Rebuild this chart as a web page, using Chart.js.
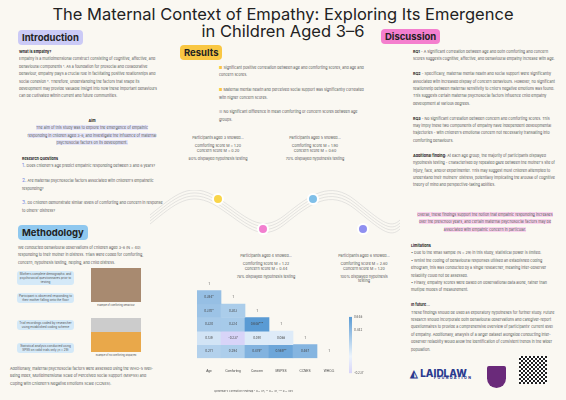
<!DOCTYPE html>
<html><head><meta charset="utf-8">
<script src="https://cdn.jsdelivr.net/npm/chart.js@4"></script>
<style>
body{margin:0;width:566px;height:400px;background:#faf8f2;font-family:Inter,"Open Sans",sans-serif;color:#333;position:relative;overflow:hidden}
.a{position:absolute}
.t{font-size:3.7px;line-height:7.4px;color:#555}
.h{position:absolute;font-weight:700;font-size:9.5px;padding:2px 4px;border-radius:4px;color:#222}
.b{font-weight:700;color:#222}
.box{background:#d4e9f8;border-radius:3px;text-align:center;font-size:3px;line-height:4px;padding:1px;color:#555;position:absolute;width:55px}
</style></head><body>
<div class="a" style="left:0;width:566px;top:6px;text-align:center;font-size:16.5px;line-height:17px;color:#222">The Maternal Context of Empathy: Exploring Its Emergence<br>in Children Aged 3–6</div>
<div class="h" style="left:18px;top:30px;background:#cbcaf6">Introduction</div>
<div class="h" style="left:180px;top:45px;background:#f9c743">Results</div>
<div class="h" style="left:18px;top:225px;background:#8fc8ef">Methodology</div>
<div class="h" style="left:381px;top:29px;background:#f47fce">Discussion</div>

<div class="a t" style="left:19px;top:48px;width:144px"><span class="b">What is Empathy?</span><br>Empathy is a multidimensional construct consisting of cognitive, affective, and behavioural components ¹. As a foundation for prosocial and collaborative behaviour, empathy plays a crucial role in facilitating positive relationships and social cohesion ². Therefore, understanding the factors that shape its development may provide valuable insight into how these important behaviours can be cultivated within current and future communities.</div>
<div class="a t" style="left:27px;top:117px;width:130px;text-align:center"><span class="b">Aim</span><br><span style="background:#e6e6fa">The aim of this study was to explore the emergence of empathic responding in children aged 3-6, and investigate the influence of maternal psychosocial factors on its development.</span></div>
<div class="a t" style="left:22px;top:155px;width:145px"><span class="b">Research Questions</span><br><span style="color:#7a8ce0;font-size:5px">1.</span> Does children's age predict empathic responding between 3 and 6 years?<br><br><span style="color:#7a8ce0;font-size:5px">2.</span> Are maternal psychosocial factors associated with children's empathetic responding?<br><br><span style="color:#7a8ce0;font-size:5px">3.</span> Do children demonstrate similar levels of comforting and concern in response to others' distress?</div>

<div class="a t" style="left:18px;top:244px;width:140px">We conducted behavioural observations of children aged 3-6 (N = 40) responding to their mother in distress. Trials were coded for comforting, concern, hypothesis testing, helping, and child distress.</div>
<div class="box" style="left:17px;top:271px">Mothers complete demographic and psychosocial questionnaires prior to testing</div>
<div class="box" style="left:17px;top:293px">Participant is observed responding to their mother falling onto the floor</div>
<div class="box" style="left:17px;top:320px">Trial recordings coded by researcher using established coding scheme</div>
<div class="box" style="left:17px;top:343px">Statistical analysis conducted using SPSS on valid trials only (n = 29)</div>
<div class="a" style="left:91px;top:268px;width:50px;height:34px;background:#a88a70"></div>
<div class="a t" style="left:88px;top:302px;width:56px;font-size:2.4px;text-align:center">Example of comforting behaviour</div>
<div class="a" style="left:91px;top:318px;width:50px;height:34px;background:linear-gradient(#ccc 40%,#e9a84a 40%)"></div>
<div class="a t" style="left:88px;top:352px;width:56px;font-size:2.4px;text-align:center">Example of no comforting displayed</div>
<div class="a t" style="left:10px;top:365px;width:148px">Additionally, maternal psychosocial factors were assessed using the WHO-5 Well-Being Index, Multidimensional Scale of Perceived Social Support (MSPSS) and Coping with Children's Negative Emotions Scale (CCNES).</div>

<div class="a t" style="left:219px;top:64px;width:150px"><span style="color:#f9c743">■</span> Significant positive correlation between age and comforting scores, and age and concern scores.<br><br><span style="color:#f9c743">■</span> Maternal mental health and perceived social support was significantly correlated with higher concern scores.<br><br><span style="color:#ccc">■</span> No significant difference in mean comforting or concern scores between age groups.</div>
<div class="a t" style="left:188px;top:136px;width:60px;text-align:center;line-height:4.2px">Participants aged 3 showed...<br><br>Comforting score M = 1.20<br>Concern score M = 0.20<br><br>80% displayed hypothesis testing</div>
<div class="a t" style="left:285px;top:136px;width:60px;text-align:center;line-height:4.2px">Participants aged 5 showed...<br><br>Comforting score M = 1.90<br>Concern score M = 0.60<br><br>70% displayed hypothesis testing</div>
<div class="a t" style="left:236px;top:254px;width:60px;text-align:center;line-height:4.2px">Participants aged 4 showed...<br><br>Comforting score M = 1.22<br>Concern score M = 0.44<br><br>78% displayed hypothesis testing</div>
<div class="a t" style="left:334px;top:254px;width:60px;text-align:center;line-height:4.2px">Participants aged 6 showed...<br><br>Comforting score M = 2.60<br>Concern score M = 1.20<br><br>100% displayed hypothesis testing</div>
<svg class="a" style="left:150px;top:190px" width="250" height="60">
<g fill="none" stroke="#ccc" stroke-width="0.5">
<path d="M0 25 C25 5,40 -10,68 8 S110 45,135 25 S180 -10,205 10 S240 40,250 30"/>
<path d="M0 28 C25 8,40 -7,68 11 S110 48,135 28 S180 -7,205 13 S240 43,250 33"/>
<path d="M0 31 C25 11,40 -4,68 14 S110 51,135 31 S180 -4,205 16 S240 46,250 36"/>
<path d="M0 34 C25 14,40 -1,68 17 S110 54,135 34 S180 -1,205 19 S240 49,250 39"/>
</g>
<circle cx="68" cy="9" r="5" fill="#f9d54a" stroke="#fff" stroke-width="2"/>
<circle cx="113" cy="39" r="5" fill="#f27fcf" stroke="#fff" stroke-width="2"/>
<circle cx="163" cy="9" r="5" fill="#7fbfe8" stroke="#fff" stroke-width="2"/>
<circle cx="213" cy="39" r="5" fill="#8f8ff0" stroke="#fff" stroke-width="2"/>
</svg>

<div class="a t" style="left:413px;top:48px;width:142px"><span class="b">RQ1</span> - A significant correlation between age and both comforting and concern scores suggests cognitive, affective, and behavioural empathy increase with age.<br><br><span class="b">RQ2</span> - Specifically, maternal mental health and social support were significantly associated with increased display of concern behaviours. However, no significant relationship between maternal sensitivity to child's negative emotions was found. This suggests certain maternal psychosocial factors influence child empathy development at various degrees.<br><br><span class="b">RQ3</span> - No significant correlation between concern and comforting scores. This may imply these two components of empathy have independent developmental trajectories - with children's emotional concern not necessarily translating into comforting behaviours.<br><br><span class="b">Additional finding:</span> At each age group, the majority of participants displayed hypothesis testing - characterised by repeated gaze between the mother's site of injury, face, and/or experimenter. This may suggest most children attempted to understand their mothers' distress, potentially implicating the arousal of cognitive theory of mind and perspective-taking abilities.</div>
<div class="a t" style="left:415px;top:211px;width:140px;text-align:center"><span style="background:#fbd3ee">Overall, these findings support the notion that empathic responding increases over the preschool years, and certain maternal psychosocial factors may be associated with empathic concern in particular.</span></div>
<div class="a t" style="left:411px;top:242px;width:145px"><span class="b">Limitations</span><br>• Due to the small sample (N = 29) in this study, statistical power is limited.<br>• Whilst the coding of behavioural responses utilised an established coding ethogram, this was conducted by a single researcher, meaning inter-observer reliability could not be assessed.<br>• Finally, empathy scores were based on observational data alone, rather than multiple modes of measurement.<br><br><span class="b">In future...</span><br>These findings should be used as exploratory hypotheses for further study. Future research should incorporate both behavioural observations and caregiver-report questionnaires to provide a comprehensive overview of participants' current level of empathy. Additionally, analysis of a larger dataset alongside conducting inter-observer reliability would allow the identification of consistent trends in the wider population.</div>
<div class="a" style="left:410px;top:367px;font-size:10px;font-weight:800;color:#2a3a8f">◭ LAIDLAW<div style="font-size:3.5px;letter-spacing:1.5px;margin-left:24px;margin-top:-3px">FOUNDATION</div></div>
<div class="a" style="left:487px;top:366px;width:19px;height:22px;background:#6a2a7a;border-radius:2px 2px 10px 10px"></div>
<div class="a" style="left:519px;top:356px;width:28px;height:28px;background:repeating-conic-gradient(#222 0 25%,#fff 0 50%) 0 0/4px 4px"></div>

<div class="a" style="left:183px;top:272px;width:200px;height:122px"><canvas id="c"></canvas></div>
<div class="a t" style="left:214px;top:388px;font-size:2.5px">Spearman's Correlation Heatmap * α = .05, ** α = .01, *** α = .005</div>
<script>
const rowsLbl=["Age","Comforting","Concern","MSPSS","CCNES","WHO-5"];
const colsLbl=["Age","Comforting","Concern","MSPSS","CCNES","WHO-5"];
const corr=[
 [1],
 [0.394,1],
 [0.370,0.303,1],
 [0.320,0.324,0.648,1],
 [0.139,-0.237,0.091,0.088,1],
 [0.271,0.294,0.479,0.569,0.467,1]];
const stars=[
 [""],["*",""],["*","",""],["","","***",""],["","","","",""],["","","*","**","",""]];
const cbTicks=[0.648,0.442,-0.237];
const vmin=-0.237,vmax=0.648;
function col(v){
 if(v>=1) return 'rgba(0,0,0,0)';
 const t=(v-vmin)/(vmax-vmin);
 const lo=[216,212,248],mid=[236,244,252],hi=[90,155,212];
 let a,b,u;
 if(t<0.3){a=lo;b=mid;u=t/0.3}else{a=mid;b=hi;u=(t-0.3)/0.7}
 return `rgb(${a.map((x,i)=>Math.round(x+(b[i]-x)*u)).join(',')})`;
}
const datasets=corr.map((row,r)=>({
 data:colsLbl.map((_,c)=>c<row.length?[r-0.5,r+0.5]:null),
 backgroundColor:colsLbl.map((_,c)=>c<row.length?col(row[c]):'transparent'),
 grouped:false,barPercentage:1,categoryPercentage:1,borderWidth:0
}));
const lbl={id:'lbl',afterDatasetsDraw(ch){
 const x=ch.ctx;x.save();x.font='3px Inter';x.fillStyle='#444';x.textAlign='center';x.textBaseline='middle';
 ch.data.datasets.forEach((d,r)=>{ch.getDatasetMeta(r).data.forEach((e,c)=>{
  if(c<corr[r].length){const v=corr[r][c];x.fillText(v===1?'1':v.toFixed(3)+stars[r][c],e.x,(ch.scales.y.getPixelForValue(r)));}
 });});
 const ca=ch.chartArea,cx=ca.right+8,t=ca.top+40,bt=ca.bottom+15;
 const g=x.createLinearGradient(0,bt,0,t);
 for(let i=0;i<=10;i++)g.addColorStop(i/10,col(vmin+(vmax-vmin)*i/10));
 x.fillStyle=g;x.fillRect(cx,t,3,bt-t);
 x.fillStyle='#555';x.textAlign='left';x.font='3px Inter';
 cbTicks.forEach(v=>x.fillText(v.toFixed(3),cx+5,bt-(v-vmin)/(vmax-vmin)*(bt-t)));
 x.restore();}};
new Chart(document.getElementById('c'),{type:'bar',data:{labels:colsLbl,datasets},
 options:{responsive:true,maintainAspectRatio:false,animation:false,
 layout:{padding:{left:0,right:42,top:2,bottom:18}},
 plugins:{legend:{display:false},tooltip:{enabled:false}},
 scales:{x:{grid:{display:false},border:{display:false},ticks:{font:{size:3.2},color:'#444'}},
  y:{min:-0.5,max:5.5,reverse:true,grid:{display:false},border:{display:false},
   ticks:{stepSize:1,font:{size:3.2},color:'#444',callback:v=>rowsLbl[v]??''}}}},
 plugins:[lbl]});
</script>
</body></html>
